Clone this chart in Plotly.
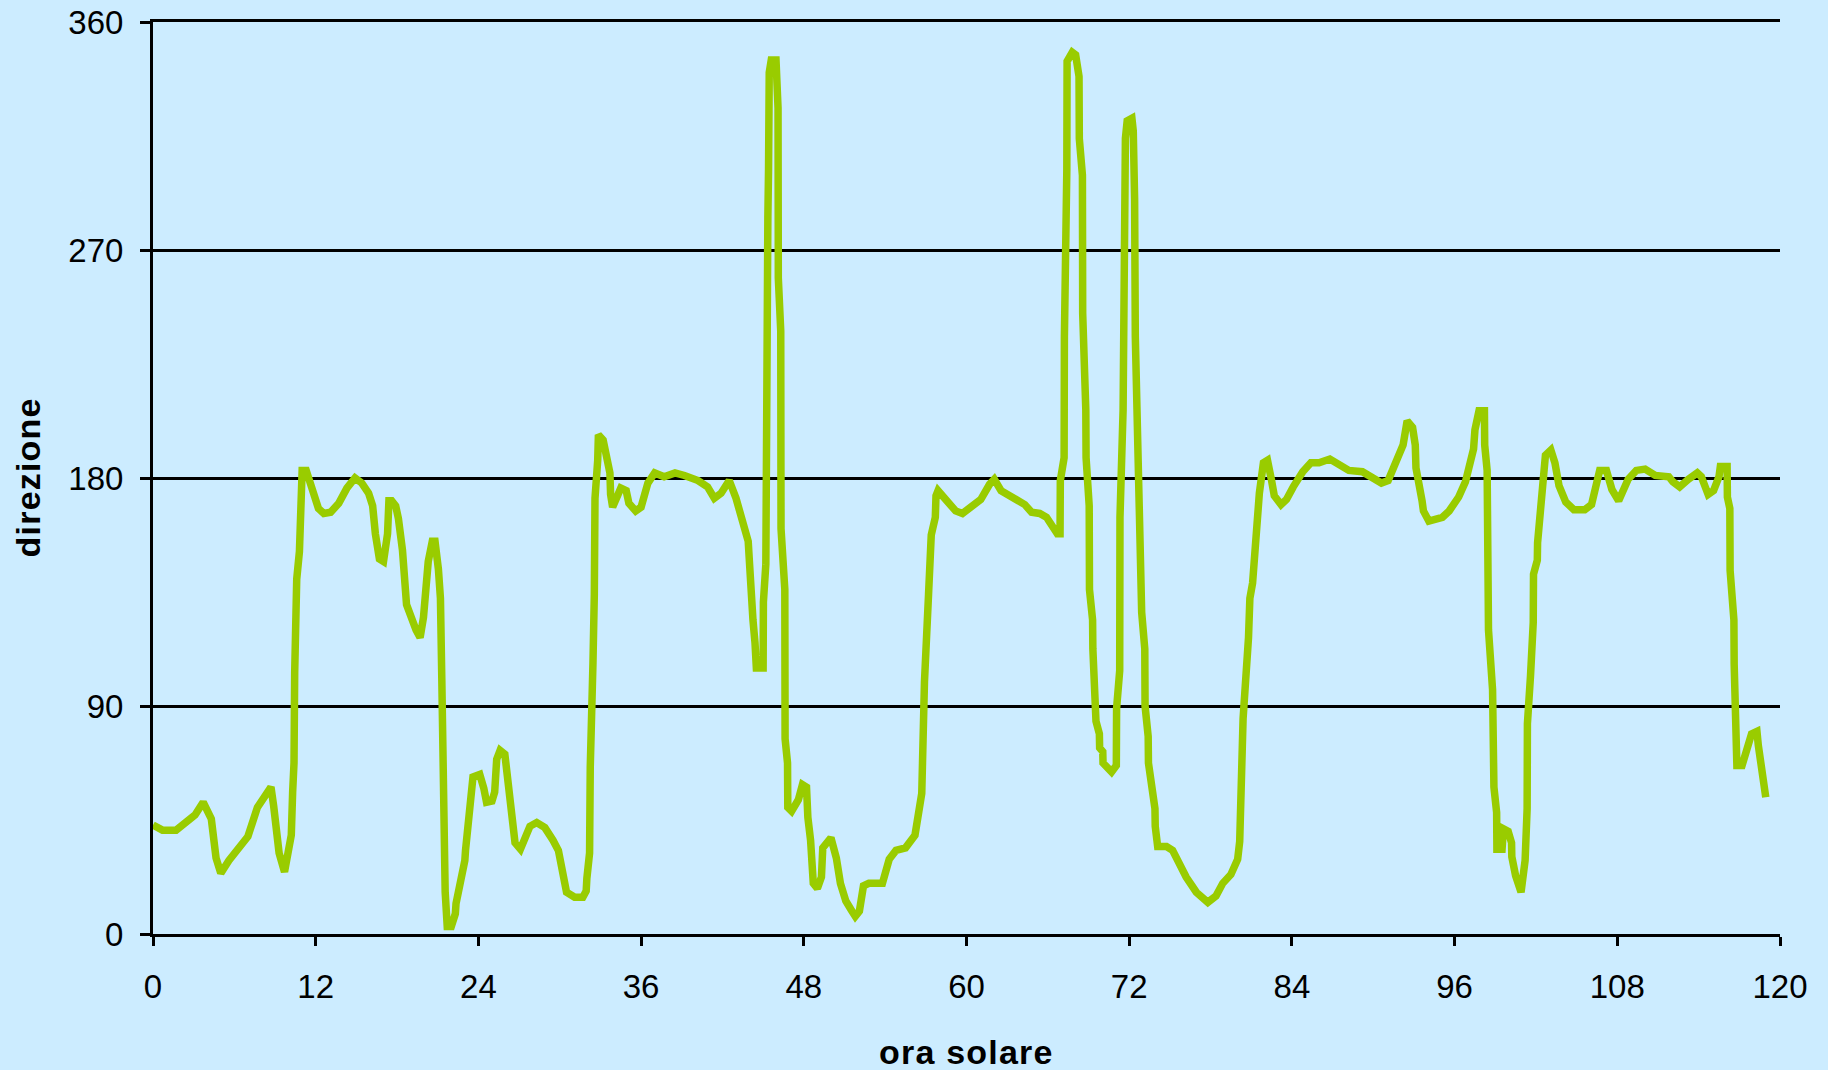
import plotly.graph_objects as go

# hour of the series (ora solare)
ore = [
    0.0, 0.7, 1.7, 2.2, 3.1, 3.7, 4.0, 4.3, 4.65, 5.0, 5.6, 6.4, 7.0, 7.7, 8.7, 8.9, 9.1, 9.3, 9.7, 9.9,
    10.2, 10.3, 10.4, 10.45, 10.5, 10.6, 10.8, 10.9, 11.0, 11.3, 11.6, 11.9, 12.2, 12.6, 13.1, 13.7, 14.3,
    14.9, 15.4, 15.9, 16.2, 16.4, 16.7, 17.0, 17.3, 17.4, 17.6, 17.9, 18.1, 18.4, 18.6, 18.7, 19.4, 19.7,
    19.95, 20.1, 20.3, 20.6, 20.8, 21.05, 21.2, 21.3, 21.35, 21.4, 21.5, 21.55, 21.7, 22.0, 22.3, 22.35,
    23.0, 23.05, 23.6, 24.1, 24.4, 24.6, 25.0, 25.2, 25.35, 25.6, 25.95, 26.2, 26.3, 26.6, 26.7, 27.1,
    27.4, 27.8, 28.3, 28.9, 29.5, 29.9, 30.5, 31.1, 31.7, 31.95, 32.0, 32.2, 32.25, 32.35, 32.45, 32.55,
    32.6, 32.8, 32.85, 33.2, 33.4, 33.7, 33.75, 33.9, 34.3, 34.5, 34.9, 35.1, 35.6, 36.0, 36.5, 37.0,
    37.7, 38.5, 39.2, 40.2, 40.9, 41.4, 41.9, 42.5, 43.0, 43.5, 43.9, 44.0, 44.1, 44.25, 44.4, 44.5,
    45.0, 45.02, 45.2, 45.22, 45.3, 45.35, 45.4, 45.45, 45.6, 45.95, 46.1, 46.12, 46.3, 46.32, 46.6,
    46.62, 46.8, 46.82, 47.1, 47.6, 47.9, 48.2, 48.3, 48.5, 48.7, 49.0, 49.3, 49.4, 50.0, 50.4, 50.7,
    51.1, 51.5, 51.8, 52.1, 52.4, 52.8, 53.3, 53.8, 54.3, 54.8, 55.5, 56.2, 56.7, 56.75, 56.9, 57.2,
    57.4, 57.7, 57.75, 57.9, 58.55, 59.2, 59.7, 60.55, 61.05, 61.7, 62.05, 62.55, 63.2, 63.8, 64.3,
    64.8, 65.4, 65.9, 66.3, 66.7, 66.9, 66.92, 67.2, 67.22, 67.4, 67.42, 67.8, 68.05, 68.3, 68.32,
    68.55, 68.57, 68.8, 68.82, 69.05, 69.07, 69.3, 69.32, 69.55, 69.8, 69.82, 70.05, 70.07, 70.7,
    71.05, 71.07, 71.3, 71.32, 71.55, 71.57, 71.7, 71.72, 71.85, 72.2, 72.3, 72.4, 72.45, 72.7, 72.9,
    72.92, 73.15, 73.17, 73.4, 73.42, 73.9, 73.92, 74.1, 74.75, 75.2, 76.2, 76.95, 77.8, 78.4, 78.9,
    79.5, 80.0, 80.15, 80.3, 80.4, 80.8, 80.9, 81.1, 81.4, 81.6, 81.9, 82.2, 82.5, 82.7, 83.2, 83.6,
    84.1, 84.8, 85.4, 86.0, 86.8, 87.5, 88.2, 89.2, 89.95, 90.6, 91.1, 91.7, 92.2, 92.5, 92.9, 93.1,
    93.15, 93.6, 93.7, 94.1, 94.6, 95.1, 95.6, 96.3, 96.8, 97.05, 97.4, 97.5, 97.8, 98.2, 98.22, 98.4,
    98.42, 98.5, 98.8, 98.9, 99.1, 99.12, 99.5, 99.6, 99.95, 100.2, 100.22, 100.5, 100.9, 101.1, 101.2,
    101.35, 101.37, 101.6, 101.8, 101.82, 102.1, 102.12, 102.3, 102.45, 102.7, 103.1, 103.4, 103.7,
    103.9, 104.2, 104.8, 105.6, 106.1, 106.7, 107.2, 107.6, 108.1, 108.8, 109.4, 110.05, 110.8, 111.8,
    112.1, 112.6, 113.25, 113.9, 114.2, 114.7, 115.1, 115.5, 115.6, 116.1, 116.12, 116.3, 116.32, 116.6,
    116.62, 116.8, 116.82, 117.2, 117.5, 117.9, 118.3, 118.4, 118.95,
]

# wind direction (direzione, degrees)
direzione = [
    43, 41, 41, 43, 47, 52, 49, 45.5, 30, 24, 29, 35, 38.5, 50, 58, 50.5, 42, 32, 24.5, 31,
    39, 56, 67.5, 103, 127, 140, 151, 169, 183, 183, 178, 171, 168, 166, 166.5, 170, 176,
    180, 178, 174, 169, 158, 148, 147, 158, 171, 171, 169, 164, 151.5, 138, 130, 120, 117,
    125, 134, 147, 155, 155, 144, 132.5, 101, 79, 56, 45, 16.5, 3, 3, 8, 12,
    29, 33, 62, 63, 57.5, 52, 52.5, 56, 69, 72.5, 71, 60.5, 54, 46, 36, 33.5,
    38, 42.5, 44, 42, 37, 33, 16.5, 14.5, 14.5, 17, 22, 32, 66, 80, 107, 134,
    172, 187, 197, 195, 190, 182, 173.5, 168.5, 173.5, 176, 175, 170, 167, 168.5, 178, 182,
    180.5, 182, 181, 179, 176.5, 172, 174, 179, 172, 162, 155, 146, 131, 124, 115, 105,
    105, 131, 146, 202, 243, 283, 302, 340, 345, 345, 326, 259, 238, 160, 136,
    77, 67.5, 50, 48.5, 53, 59, 58, 46, 37, 20, 18, 22.5, 34, 38, 30, 20,
    13, 9.5, 7, 9, 19, 20, 20, 20, 29.5, 33, 34, 39, 55.5, 81.5, 99.5, 134,
    157.5, 164.5, 173, 175, 170.5, 167, 166, 169, 171.5, 177.5, 179.5, 175, 173, 171.5, 169.5,
    166.5, 166, 164.5, 161, 158, 158, 179, 188, 235.5, 302, 344.5, 348, 347, 338.5, 314,
    299.5, 245, 207, 188, 169, 136, 124, 112.5, 84, 79, 73.5, 72, 67.5, 64,
    66.5, 89, 104, 164.5, 207, 251, 269, 314, 321, 322, 317, 290, 236, 176.5, 157.5,
    127, 112.5, 90, 78, 67.5, 49.5, 42.5, 34.5, 34.5, 33, 22.5, 16.5, 12.5, 15, 20,
    23.5, 29.5, 36.5, 67.5, 85, 117, 132.5, 138.5, 162, 174, 186, 187, 179, 173, 169.5, 171.5,
    176.5, 182.5, 186, 186, 187.5, 185, 183, 182.5, 180.5, 178, 179, 186, 193, 202.5, 200, 193,
    184, 171, 167, 163, 164, 164.5, 167, 172.5, 178.5, 184.5, 191.5, 199, 206.5, 206.5, 193, 183,
    147.5, 120, 96.5, 58, 48, 33.5, 33.5, 41.5, 40.5, 36, 30.5, 23, 16.5, 23, 29,
    49.5, 83, 102, 123, 142, 147.5, 154.5, 168, 180, 189, 191, 186, 177,
    174, 170.5, 167.5, 167.5, 169.5, 183, 183, 175.5, 171, 179.5, 183, 183.5, 181, 180.5,
    178.5, 176.5, 179.5, 182, 180.5, 173.5, 175, 180.5, 184.5, 184.5, 172.5, 168, 143.5, 124,
    106.5, 77.5, 66.5, 66.5, 72, 79, 80, 74.5, 54,
]

x_ticks = [0, 12, 24, 36, 48, 60, 72, 84, 96, 108, 120]
y_ticks = [0, 90, 180, 270, 360]

BG = "#CCECFF"
LINE = "#99CC00"
FONT = "Arial, Liberation Sans, sans-serif"

fig = go.Figure()
fig.add_trace(go.Scatter(
    x=ore, y=direzione, mode="lines",
    line=dict(color=LINE, width=7.5),
    hoverinfo="skip", showlegend=False,
))

fig.update_layout(
    width=1828, height=1070,
    margin=dict(l=153, r=48, t=22, b=136, autoexpand=False),
    paper_bgcolor=BG, plot_bgcolor=BG,
    font=dict(family=FONT, color="black"),
    xaxis=dict(
        range=[0, 120], tickmode="array", tickvals=x_ticks,
        ticktext=[str(v) for v in x_ticks],
        ticks="outside", ticklen=9, tickwidth=2.5, tickcolor="black",
        showline=True, linecolor="black", linewidth=3, mirror=True,
        showgrid=False, zeroline=False, ticklabelstandoff=12,
        tickfont=dict(size=33, family=FONT),
    ),
    yaxis=dict(
        range=[0, 360], tickmode="array", tickvals=y_ticks,
        ticktext=[str(v) for v in y_ticks],
        ticks="outside", ticklen=10, tickwidth=2.5, tickcolor="black",
        showline=True, linecolor="black", linewidth=3,
        showgrid=True, gridcolor="black", gridwidth=2.5,
        zeroline=False, ticklabelstandoff=10,
        tickfont=dict(size=33, family=FONT),
    ),
    annotations=[
        dict(text="<b>ora solare</b>", xref="paper", yref="paper", x=0.5, y=0,
             yshift=-118, xanchor="center", yanchor="middle", showarrow=False,
             font=dict(size=34, family=FONT, color="black")),
        dict(text="<b>direzione</b>", xref="paper", yref="paper", x=0, y=0.5,
             xshift=-125, xanchor="center", yanchor="middle", showarrow=False,
             textangle=-90, font=dict(size=34, family=FONT, color="black")),
    ],
)

post = (
    "document.body.style.margin='0';document.body.style.overflow='hidden';"
    "var gd=document.getElementById('{plot_id}');"
    "function ls(){document.querySelectorAll('.annotation-text').forEach(function(e){e.style.letterSpacing='1.2px';});}"
    "ls();if(gd&&gd.on){gd.on('plotly_afterplot',ls);}setTimeout(ls,50);"
)

fig.write_html("out.html", config={"displayModeBar": False}, post_script=post)
